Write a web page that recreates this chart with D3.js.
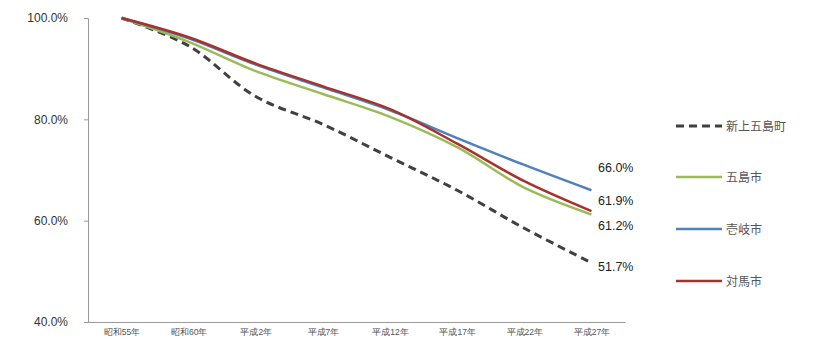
<!DOCTYPE html>
<html>
<head>
<meta charset="utf-8">
<script src="https://cdn.jsdelivr.net/npm/d3@7"></script>
<style>
  html, body { margin: 0; padding: 0; background: #fff; }
  svg { display: block; font-family: "Noto Sans CJK JP", "Noto Sans", sans-serif; }
</style>
</head>
<body>
<svg id="chart" width="813" height="347"></svg>
<script>
(function () {
// Population index (昭和55年 = 100%)
const years = ["昭和55年", "昭和60年", "平成2年", "平成7年", "平成12年", "平成17年", "平成22年", "平成27年"];
const shinKamigoto = [100, 94.5, 84.5, 79.0, 72.5, 66.0, 58.5, 51.7];
const gotoCity     = [100, 95.3, 89.5, 85.0, 80.5, 74.5, 66.5, 61.2];
const ikiCity      = [100, 96.0, 90.8, 86.3, 81.8, 76.3, 71.0, 66.0];
const tsushimaCity = [100, 96.2, 91.0, 86.5, 82.0, 75.2, 67.8, 61.9];
const yTicks = [40, 60, 80, 100];

const series = [
  { name: "新上五島町", values: shinKamigoto, color: "#404040", width: 3, dash: "8,5" },
  { name: "五島市",     values: gotoCity,     color: "#9bbb59", width: 2.5, dash: null },
  { name: "壱岐市",     values: ikiCity,      color: "#4f81bd", width: 2.5, dash: null },
  { name: "対馬市",     values: tsushimaCity, color: "#a8312d", width: 2.5, dash: null }
];

const svg = d3.select("#chart");
const plotLeft = 88, plotRight = 625, plotTop = 18, plotBottom = 322;

const x = d3.scalePoint().domain(years).range([plotLeft, plotRight]).padding(0.5);
const y = d3.scaleLinear().domain([40, 100]).range([plotBottom, plotTop]);

// Y axis
const yAxis = svg.append("g")
  .attr("transform", `translate(${plotLeft},0)`)
  .call(d3.axisLeft(y).tickValues(yTicks).tickSize(4).tickPadding(16)
    .tickFormat(d => d3.format(".1f")(d) + "%"));
yAxis.select(".domain").attr("stroke", "#9a9a9a");
yAxis.selectAll(".tick line").attr("stroke", "#9a9a9a");
yAxis.selectAll(".tick text").attr("fill", "#333").attr("font-size", 12)
  .attr("font-family", "Liberation Sans, Arial, sans-serif");

// X axis
const xAxis = svg.append("g")
  .attr("transform", `translate(0,${plotBottom})`)
  .call(d3.axisBottom(x).tickSize(0).tickPadding(7).tickSizeOuter(0));
xAxis.select(".domain").attr("stroke", "#9a9a9a");
xAxis.selectAll(".tick text").attr("fill", "#555").attr("font-size", 8.5);

// Smoothed lines
const line = d3.line()
  .x((d, i) => x(years[i]))
  .y(d => y(d))
  .curve(d3.curveCatmullRom.alpha(0.5));
series.forEach(s => {
  svg.append("path")
    .datum(s.values)
    .attr("fill", "none")
    .attr("stroke", s.color)
    .attr("stroke-width", s.width)
    .attr("stroke-dasharray", s.dash)
    .attr("stroke-linejoin", "round")
    .attr("d", line);
});

// End value labels
const endLabels = [
  { v: ikiCity[7], ty: 172 },
  { v: tsushimaCity[7], ty: 205 },
  { v: gotoCity[7], ty: 230 },
  { v: shinKamigoto[7], ty: 271 }
];
endLabels.forEach(l => {
  svg.append("text")
    .attr("x", 598).attr("y", l.ty)
    .attr("font-size", 12.5).attr("fill", "#222")
    .attr("font-family", "Liberation Sans, Arial, sans-serif")
    .text(d3.format(".1f")(l.v) + "%");
});

// Legend
const legendY = [126, 177, 229, 281];
series.forEach((s, i) => {
  const g = svg.append("g").attr("transform", `translate(676,${legendY[i]})`);
  g.append("line").attr("x1", 0).attr("x2", 46).attr("y1", 0).attr("y2", 0)
    .attr("stroke", s.color).attr("stroke-width", s.width)
    .attr("stroke-dasharray", s.dash);
  g.append("text").attr("x", 50).attr("y", 4.5)
    .attr("font-size", 12).attr("fill", "#555").text(s.name);
});
})();
</script>
</body>
</html>
